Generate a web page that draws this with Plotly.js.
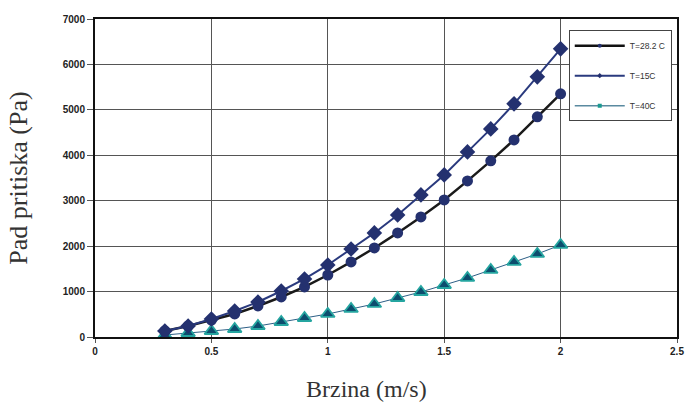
<!DOCTYPE html>
<html><head><meta charset="utf-8">
<script src="https://cdn.plot.ly/plotly-3.0.1.min.js"></script>
<style>body{margin:0;background:#fff}#c{width:685px;height:406px}</style>
</head><body><div id="c"></div>
<script>
const velocity = [0.3,0.4,0.5,0.6,0.7,0.8,0.9,1.0,1.1,1.2,1.3,1.4,1.5,1.6,1.7,1.8,1.9,2.0];
const dp_T282 = [132,242,374,507,683,881,1101,1365,1652,1960,2291,2643,3017,3436,3877,4339,4846,5352];
const dp_T15 = [132,242,396,573,771,1013,1278,1586,1938,2291,2687,3128,3568,4075,4581,5132,5727,6343];
const dp_T40 = [44,88,132,176,242,330,418,507,617,727,859,991,1145,1300,1476,1652,1828,2026];
const names = ['T=28.2 C','T=15C','T=40C'];
const xTitle = 'Brzina (m/s)';
const yTitle = 'Pad pritiska (Pa)';
const xTicks = [0,0.5,1,1.5,2,2.5];
const yTicks = [0,1000,2000,3000,4000,5000,6000,7000];

const traces = [
 {x:velocity,y:dp_T40,mode:'lines+markers',showlegend:false,
  line:{color:'#2d5f86',width:1},
  marker:{symbol:'triangle-up',size:12,color:'#0d4d6e',line:{color:'#25a5a0',width:1.8}}},
 {x:velocity,y:dp_T282,mode:'lines+markers',showlegend:false,
  line:{color:'#1a1a1a',width:2.5},
  marker:{symbol:'circle',size:11,color:'#24316f'}},
 {x:velocity,y:dp_T15,mode:'lines+markers',showlegend:false,
  line:{color:'#2a3a7e',width:2},
  marker:{symbol:'diamond',size:12,color:'#24316f'}},
 {x:[null],y:[null],name:names[0],legendgroup:'a',mode:'lines+markers',line:{color:'#111',width:2.5},marker:{size:4,color:'#24316f'}},
 {x:[null],y:[null],name:names[1],legendgroup:'b',mode:'lines+markers',line:{color:'#2a3a7e',width:2},marker:{size:4,symbol:'diamond',color:'#24316f'}},
 {x:[null],y:[null],name:names[2],legendgroup:'c',mode:'lines+markers',line:{color:'#5a8aa0',width:1.5},marker:{size:4,symbol:'square',color:'#1a9a90'}}
];

const layout = {
 width:685,height:406,
 margin:{l:95,r:8,t:19,b:69},
 paper_bgcolor:'#fff',plot_bgcolor:'#fff',
 font:{family:'Liberation Sans, Arial',color:'#222'},
 xaxis:{range:[0,2.5],tickvals:xTicks,ticktext:xTicks.map(String),
  showgrid:true,gridcolor:'#555',gridwidth:1,zeroline:false,
  showline:true,linecolor:'#111',linewidth:2,mirror:true,
  ticks:'outside',ticklen:4,tickcolor:'#555',
  tickfont:{size:10,family:'Liberation Sans, Arial',color:'#222',weight:'bold'}},
 yaxis:{range:[0,7000],tickvals:yTicks,ticktext:yTicks.map(String),
  showgrid:true,gridcolor:'#555',gridwidth:1,zeroline:false,
  showline:true,linecolor:'#111',linewidth:2,mirror:true,
  ticks:'outside',ticklen:6,tickcolor:'#555',
  tickfont:{size:10,family:'Liberation Sans, Arial',color:'#222',weight:'bold'},
  title:{text:yTitle,font:{family:'Liberation Serif, Times New Roman',size:26,color:'#333'},standoff:28}},
 annotations:[{text:xTitle,xref:'paper',yref:'paper',x:0.467,y:-0.163,xanchor:'center',yanchor:'middle',showarrow:false,
  font:{family:'Liberation Serif, Times New Roman',size:24,color:'#333'}}],
 legend:{x:0.814,y:0.965,xanchor:'left',yanchor:'top',bgcolor:'#fff',bordercolor:'#444',borderwidth:1,
  font:{size:8.5,family:'Liberation Sans, Arial',color:'#333'},tracegroupgap:11,itemwidth:50,
  entrywidth:108,entrywidthmode:'pixels'},
 showlegend:true
};
Plotly.newPlot('c',traces,layout,{displayModeBar:false,staticPlot:true});
</script></body></html>
